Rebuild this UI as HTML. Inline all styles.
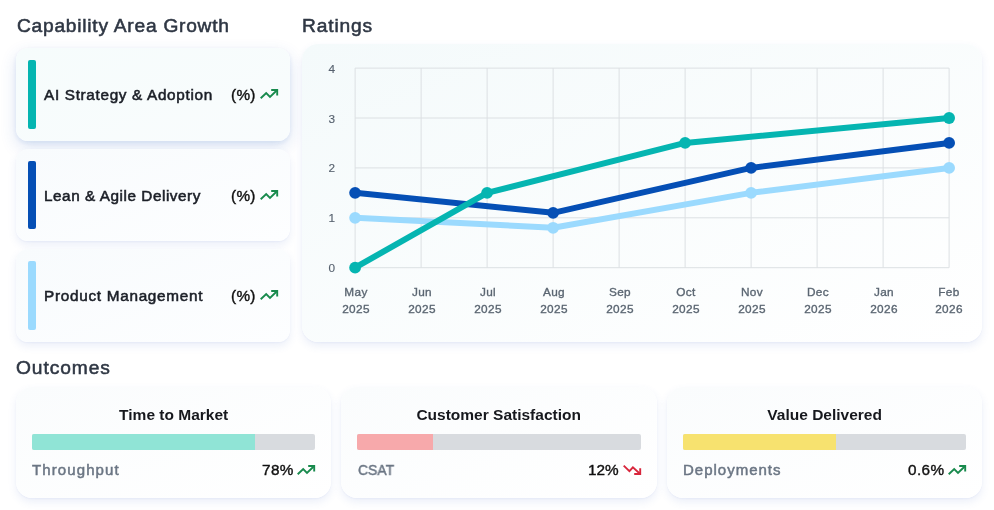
<!DOCTYPE html>
<html lang="en">
<head>
<meta charset="utf-8">
<title>Dashboard</title>
<style>
*{box-sizing:border-box;margin:0;padding:0}
html,body{width:994px;height:510px;background:#fff;overflow:hidden}
body{font-family:"Liberation Sans",sans-serif;position:relative;color:#111827}
.h,.lbl,.pct,.t,.l,.v{will-change:transform}
.h{position:absolute;font-size:19.2px;font-weight:400;color:#2f3744;white-space:nowrap;line-height:24px;-webkit-text-stroke:0.55px #2f3744}
.card{position:absolute;left:16px;width:274px;height:92.5px;border-radius:12px;background:linear-gradient(to bottom right,#f8fbfd 0%,#fdfeff 100%);box-shadow:0 4px 8px rgba(70,105,200,.11),0 1px 2px rgba(70,105,200,.05)}
.card.sel{background:linear-gradient(to bottom right,#f6fcfc 0%,#f9fcfd 100%);box-shadow:0 6px 16px rgba(50,100,190,.17),0 2px 5px rgba(50,100,190,.10)}
.card .bar{position:absolute;left:12px;top:12.2px;width:8px;height:68.5px;border-radius:2px}
.card .lbl{position:absolute;left:28.3px;top:37.3px;font-size:15.3px;line-height:20px;font-weight:400;color:#1b1f27;white-space:nowrap;-webkit-text-stroke:0.55px #1b1f27}
.card .pct{position:absolute;left:214.6px;top:37.3px;font-size:15.3px;letter-spacing:.3px;line-height:20px;color:#111;white-space:nowrap;-webkit-text-stroke:0.4px #111}
.card svg{position:absolute;left:243px;top:39px}
.chart{position:absolute;left:302px;top:44px;width:680px;height:298px;border-radius:16px;background:linear-gradient(to bottom right,#f4fafb 0%,#ffffff 100%);box-shadow:0 4px 8px rgba(70,105,200,.11),0 1px 2px rgba(70,105,200,.05)}
.oc{position:absolute;top:386.5px;width:315.33px;height:111px;border-radius:16px;background:linear-gradient(to bottom right,#fafcfd 0%,#ffffff 100%);box-shadow:0 4px 8px rgba(70,105,200,.11),0 1px 2px rgba(70,105,200,.05)}
.oc .t{position:absolute;left:0;right:0;top:18px;text-align:center;font-size:15.5px;line-height:20px;font-weight:700;color:#16181d;white-space:nowrap}
.oc .track{position:absolute;left:16px;right:16px;top:47.5px;height:15.8px;border-radius:2px;background:#d8dbdf;overflow:hidden}
.oc .fill{position:absolute;left:0;top:0;bottom:0}
.oc .l{position:absolute;left:16.3px;top:73.6px;font-size:15px;line-height:20px;color:#6b7684;white-space:nowrap;-webkit-text-stroke:0.5px #6b7684}
.oc .v{position:absolute;right:38px;top:73.6px;font-size:15.3px;line-height:20px;color:#111;white-space:nowrap;-webkit-text-stroke:0.4px #111}
.oc svg{position:absolute;right:15px;top:76.6px}
</style>
</head>
<body>
<div class="h" style="left:16.5px;top:13.7px;letter-spacing:.75px">Capability Area Growth</div>
<div class="h" style="left:301.5px;top:13.7px;letter-spacing:.85px">Ratings</div>
<div class="h" style="left:16px;top:355.9px;letter-spacing:.92px">Outcomes</div>

<div class="card sel" style="top:48px"><div class="bar" style="background:#05b5b1"></div><div class="lbl" style="letter-spacing:.68px">AI Strategy &amp; Adoption</div><div class="pct">(%)</div>
<svg width="20" height="13" viewBox="0 0 20 13" fill="none" stroke="#188a4d" stroke-width="1.9"><polyline points="1.7,11.3 7.2,6 11,9.9 18.2,2.95"/><polyline points="12.2,2.95 18.2,2.95 18.2,8.6"/></svg></div>
<div class="card" style="top:148.6px"><div class="bar" style="background:#054fb5"></div><div class="lbl" style="letter-spacing:.55px">Lean &amp; Agile Delivery</div><div class="pct">(%)</div>
<svg width="20" height="13" viewBox="0 0 20 13" fill="none" stroke="#188a4d" stroke-width="1.9"><polyline points="1.7,11.3 7.2,6 11,9.9 18.2,2.95"/><polyline points="12.2,2.95 18.2,2.95 18.2,8.6"/></svg></div>
<div class="card" style="top:249.2px"><div class="bar" style="background:#9bdafe"></div><div class="lbl" style="letter-spacing:.72px">Product Management</div><div class="pct">(%)</div>
<svg width="20" height="13" viewBox="0 0 20 13" fill="none" stroke="#188a4d" stroke-width="1.9"><polyline points="1.7,11.3 7.2,6 11,9.9 18.2,2.95"/><polyline points="12.2,2.95 18.2,2.95 18.2,8.6"/></svg></div>

<div class="chart">
<svg width="680" height="298" viewBox="302 44 680 298" style="position:absolute;left:0;top:0;font-family:'Liberation Sans',sans-serif">
<g stroke="#dce0e3" stroke-width="1" fill="none">
<path d="M355.1 267.7H949.1M355.1 217.8H949.1M355.1 167.9H949.1M355.1 118.0H949.1M355.1 68.1H949.1"/>
<path d="M355.1 68.1V267.7M421.1 68.1V267.7M487.1 68.1V267.7M553.1 68.1V267.7M619.1 68.1V267.7M685.1 68.1V267.7M751.1 68.1V267.7M817.1 68.1V267.7M883.1 68.1V267.7M949.1 68.1V267.7"/>
</g>
<g font-size="11.8" fill="#56616e" stroke="#56616e" stroke-width=".12" text-anchor="end">
<text x="335" y="73">4</text><text x="335" y="122.6">3</text><text x="335" y="172.4">2</text><text x="335" y="222">1</text><text x="335" y="271.8">0</text>
</g>
<g font-size="11.8" fill="#5b6672" stroke="#5b6672" stroke-width=".35" letter-spacing=".35" text-anchor="middle">
<text x="356" y="296">May</text><text x="356" y="313.4">2025</text>
<text x="422" y="296">Jun</text><text x="422" y="313.4">2025</text>
<text x="488" y="296">Jul</text><text x="488" y="313.4">2025</text>
<text x="554" y="296">Aug</text><text x="554" y="313.4">2025</text>
<text x="620" y="296">Sep</text><text x="620" y="313.4">2025</text>
<text x="686" y="296">Oct</text><text x="686" y="313.4">2025</text>
<text x="752" y="296">Nov</text><text x="752" y="313.4">2025</text>
<text x="818" y="296">Dec</text><text x="818" y="313.4">2025</text>
<text x="884" y="296">Jan</text><text x="884" y="313.4">2026</text>
<text x="949" y="296">Feb</text><text x="949" y="313.4">2026</text>
</g>
<g fill="none" stroke-width="6" stroke-linejoin="round" stroke-linecap="round">
<polyline stroke="#9bdafe" points="355.1,217.8 553.1,227.78 751.1,192.85 949.1,167.9"/>
<g fill="#9bdafe" stroke="none"><circle cx="355.1" cy="217.8" r="5.9"/><circle cx="553.1" cy="227.78" r="5.9"/><circle cx="751.1" cy="192.85" r="5.9"/><circle cx="949.1" cy="167.9" r="5.9"/></g>
<polyline stroke="#054fb5" points="355.1,192.85 553.1,212.81 751.1,167.9 949.1,142.95"/>
<g fill="#054fb5" stroke="none"><circle cx="355.1" cy="192.85" r="5.9"/><circle cx="553.1" cy="212.81" r="5.9"/><circle cx="751.1" cy="167.9" r="5.9"/><circle cx="949.1" cy="142.95" r="5.9"/></g>
<polyline stroke="#05b5b1" points="355.1,267.7 487.1,192.85 685.1,142.95 949.1,118.0"/>
<g fill="#05b5b1" stroke="none"><circle cx="355.1" cy="267.7" r="5.9"/><circle cx="487.1" cy="192.85" r="5.9"/><circle cx="685.1" cy="142.95" r="5.9"/><circle cx="949.1" cy="118.0" r="5.9"/></g>
</g>
</svg>
</div>

<div class="oc" style="left:16px"><div class="t">Time to Market</div><div class="track"><div class="fill" style="width:222.7px;background:#90e4d6"></div></div><div class="l" style="letter-spacing:1.1px">Throughput</div><div class="v" style="letter-spacing:.4px">78%</div>
<svg width="20" height="13" viewBox="0 0 20 13" fill="none" stroke="#188a4d" stroke-width="1.9"><polyline points="1.7,11.3 7.2,6 11,9.9 18.2,2.95"/><polyline points="12.2,2.95 18.2,2.95 18.2,8.6"/></svg></div>
<div class="oc" style="left:341.33px"><div class="t">Customer Satisfaction</div><div class="track"><div class="fill" style="width:75.2px;background:#f7a9ab"></div></div><div class="l" style="left:16.4px;transform:scaleX(.93);transform-origin:0 0">CSAT</div><div class="v">12%</div>
<svg width="20" height="13" viewBox="0 0 20 13" fill="none" stroke="#d8263c" stroke-width="1.9"><polyline points="1.7,2.6 7.4,8.2 10.9,4.3 18.2,10.95"/><polyline points="12.2,10.95 18.2,10.95 18.2,5.3"/></svg></div>
<div class="oc" style="left:666.67px"><div class="t">Value Delivered</div><div class="track"><div class="fill" style="width:153.4px;background:#f7e26f"></div></div><div class="l" style="letter-spacing:1.0px">Deployments</div><div class="v" style="letter-spacing:.4px">0.6%</div>
<svg width="20" height="13" viewBox="0 0 20 13" fill="none" stroke="#188a4d" stroke-width="1.9"><polyline points="1.7,11.3 7.2,6 11,9.9 18.2,2.95"/><polyline points="12.2,2.95 18.2,2.95 18.2,8.6"/></svg></div>
</body>
</html>
